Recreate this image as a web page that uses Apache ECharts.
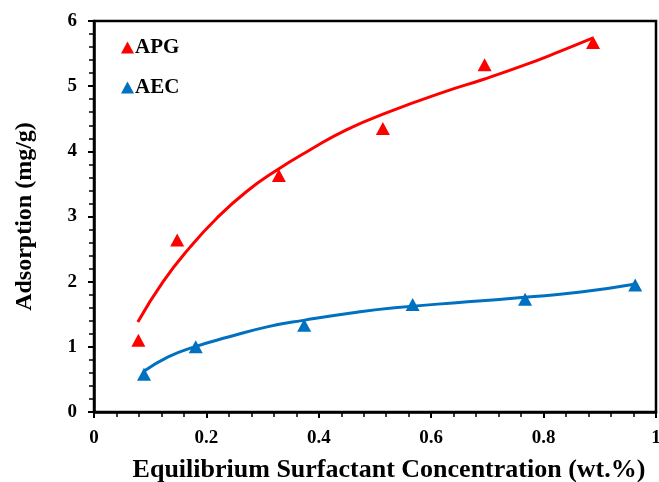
<!DOCTYPE html>
<html>
<head>
<meta charset="utf-8">
<script src="https://cdn.jsdelivr.net/npm/echarts@6/dist/echarts.min.js"></script>
<style>
  html, body { margin: 0; padding: 0; background: #fff; }
  #chart { width: 659px; height: 482px; }
</style>
</head>
<body>
<div id="chart"></div>
<script>
// Measured adsorption points
const apgConc = [0.079, 0.148, 0.329, 0.514, 0.695, 0.888];
const apgAds  = [1.10, 2.64, 3.63, 4.35, 5.33, 5.67];
const aecConc = [0.089, 0.181, 0.374, 0.567, 0.767, 0.963];
const aecAds  = [0.58, 1.00, 1.33, 1.65, 1.73, 1.95];

// Fitted trend curves (x, y pairs)
const apgFitX = [0.078, 0.123, 0.171, 0.218, 0.271, 0.325, 0.384, 0.449, 0.526, 0.626, 0.695, 0.768, 0.828, 0.888];
const apgFitY = [1.38, 2.00, 2.53, 2.97, 3.38, 3.71, 4.02, 4.33, 4.61, 4.92, 5.11, 5.33, 5.53, 5.74];
const aecFitX = [0.088, 0.132, 0.179, 0.239, 0.310, 0.375, 0.458, 0.535, 0.665, 0.766, 0.866, 0.961];
const aecFitY = [0.62, 0.845, 1.00, 1.15, 1.31, 1.41, 1.52, 1.60, 1.69, 1.76, 1.84, 1.96];

const xTicks = [0, 0.2, 0.4, 0.6, 0.8, 1];
const yTicks = [0, 1, 2, 3, 4, 5, 6];

const zip = (xs, ys) => xs.map((x, i) => [x, ys[i]]);

const RED = '#FF0000';
const BLUE = '#0070C0';
const FONT = '"Liberation Serif", "Times New Roman", serif';

const chart = echarts.init(document.getElementById('chart'), null, { renderer: 'canvas' });

chart.setOption({
  animation: false,
  backgroundColor: '#fff',
  textStyle: { fontFamily: FONT },
  grid: {
    left: 94, right: 3, top: 21, bottom: 70,
    containLabel: false, outerBoundsMode: 'none',
    show: true, borderColor: '#000', borderWidth: 2.5
  },
  legend: {
    orient: 'vertical',
    left: 116, top: 32,
    itemWidth: 13, itemHeight: 12, itemGap: 19,
    data: [
      { name: 'APG', icon: 'triangle' },
      { name: 'AEC', icon: 'triangle' }
    ],
    textStyle: { fontFamily: FONT, fontWeight: 'bold', fontSize: 21, color: '#000', padding: [0, 0, 0, -4] }
  },
  xAxis: {
    type: 'value',
    min: xTicks[0], max: xTicks[xTicks.length - 1], interval: 0.2,
    name: 'Equilibrium Surfactant Concentration (wt.%)',
    nameLocation: 'middle', nameGap: 45,
    nameTextStyle: { fontFamily: FONT, fontWeight: 'bold', fontSize: 26, color: '#000', padding: [0, 0, 0, 28] },
    axisLine: { show: true, lineStyle: { color: '#000', width: 2.5 } },
    axisTick: { show: true, length: 6, lineStyle: { color: '#000', width: 2 } },
    minorTick: { show: true, splitNumber: 5, length: 5, lineStyle: { color: '#000', width: 1.5 } },
    splitLine: { show: false },
    axisLabel: {
      margin: 17, fontFamily: FONT, fontWeight: 'bold', fontSize: 19, color: '#000',
      formatter: v => String(+v.toFixed(1))
    }
  },
  yAxis: {
    type: 'value',
    min: yTicks[0], max: yTicks[yTicks.length - 1], interval: 1,
    name: 'Adsorption (mg/g)',
    nameLocation: 'middle', nameGap: 57, nameRotate: 90,
    nameTextStyle: { fontFamily: FONT, fontWeight: 'bold', fontSize: 24, color: '#000' },
    axisLine: { show: true, lineStyle: { color: '#000', width: 2.5 } },
    axisTick: { show: true, length: 6, lineStyle: { color: '#000', width: 2 } },
    minorTick: { show: true, splitNumber: 5, length: 5, lineStyle: { color: '#000', width: 1.5 } },
    splitLine: { show: false },
    axisLabel: { margin: 17, fontFamily: FONT, fontWeight: 'bold', fontSize: 19, color: '#000' }
  },
  series: [
    {
      name: 'APG fit', type: 'line', smooth: true, showSymbol: false, silent: true,
      data: zip(apgFitX, apgFitY),
      lineStyle: { color: RED, width: 3 }, itemStyle: { color: RED }, z: 2
    },
    {
      name: 'AEC fit', type: 'line', smooth: true, showSymbol: false, silent: true,
      data: zip(aecFitX, aecFitY),
      lineStyle: { color: BLUE, width: 3 }, itemStyle: { color: BLUE }, z: 2
    },
    {
      name: 'APG', type: 'scatter', symbol: 'triangle', symbolSize: [14, 13],
      data: zip(apgConc, apgAds), itemStyle: { color: RED, opacity: 1 }, z: 3
    },
    {
      name: 'AEC', type: 'scatter', symbol: 'triangle', symbolSize: [14, 13],
      data: zip(aecConc, aecAds), itemStyle: { color: BLUE, opacity: 1 }, z: 3
    }
  ]
});
</script>
</body>
</html>
